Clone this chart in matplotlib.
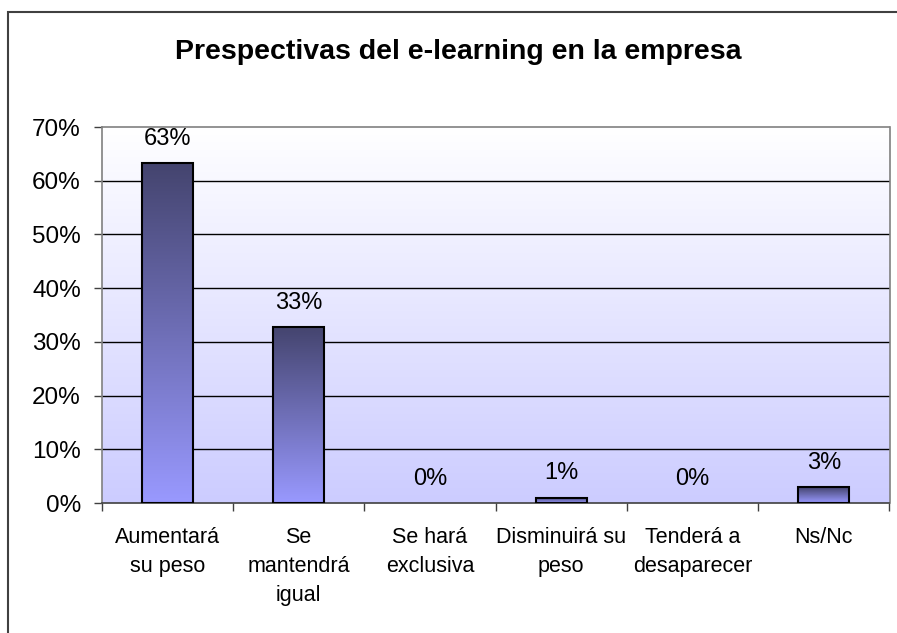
import numpy as np
import matplotlib
matplotlib.use("Agg")
import matplotlib.pyplot as plt
from matplotlib.patches import Rectangle
from matplotlib.colors import LinearSegmentedColormap

categories = ["Aumentará\nsu peso", "Se\nmantendrá\nigual", "Se hará\nexclusiva",
              "Disminuirá su\npeso", "Tenderá a\ndesaparecer", "Ns/Nc"]
values = [63.3, 32.8, 0.0, 1.0, 0.0, 2.9]
yticks = [0, 10, 20, 30, 40, 50, 60, 70]
title = "Prespectivas del e-learning en la empresa"

plt.rcParams['font.family'] = ['Liberation Sans', 'DejaVu Sans']

W, H = 897, 633
fig = plt.figure(figsize=(W / 100, H / 100), dpi=100)
fig.patch.set_facecolor("white")

# outer chart frame (right/bottom edges run off the image)
fig.patches.append(Rectangle((8 / W, -0.05), 1.2, 1 - 12 / H + 0.05, transform=fig.transFigure,
                             fill=False, edgecolor="#404040", linewidth=1.5, zorder=0))

ax = fig.add_axes([101.7 / W, 1 - 503 / H, (889.5 - 101.7) / W, (503 - 127) / H])
n = len(categories)

# background gradient
bg = LinearSegmentedColormap.from_list("bg", ["#ccccff", "#ffffff"])
grad = np.linspace(0, 1, 256).reshape(-1, 1)
ax.imshow(grad, aspect="auto", cmap=bg, origin="lower",
          extent=[-0.5, n - 0.5, 0, 70], zorder=0)

# gridlines
for t in yticks[1:-1]:
    ax.axhline(t, color="black", linewidth=1.0, zorder=1)

barcm = LinearSegmentedColormap.from_list("bar", ["#9999ff", "#44446e"])
bw = 0.39
bars = ax.bar(range(n), values, width=bw, color="none",
              edgecolor="black", linewidth=1.5, zorder=3)
for b, v in zip(bars, values):
    if v <= 0:
        b.set_visible(False)
        continue
    x0 = b.get_x()
    im = ax.imshow(grad, aspect="auto", cmap=barcm, origin="lower",
                   extent=[x0, x0 + bw, 0, v], zorder=2)
    im.set_clip_path(b)

for i, v in enumerate(values):
    ax.annotate(f"{v:.0f}%", (i, v), xytext=(0, 17.5), textcoords="offset points",
                ha="center", va="center", fontsize=17, color="black", zorder=5)

ax.set_xlim(-0.5, n - 0.5)
ax.set_ylim(0, 70)

for s in ["top", "right", "left"]:
    ax.spines[s].set_color("#808080")
    ax.spines[s].set_linewidth(1.2)
ax.spines["bottom"].set_color("#404040")
ax.spines["bottom"].set_linewidth(1.2)

ax.set_yticks(yticks)
ax.set_yticklabels([f"{t}%" for t in yticks], fontsize=17.5)
ax.tick_params(axis="y", length=6, width=1, color="#404040", pad=9)

ax.set_xticks(np.arange(-0.5, n, 1.0))
ax.set_xticklabels([])
ax.tick_params(axis="x", length=6, width=1, color="#404040")
for i, c in enumerate(categories):
    ax.text(i, -4.4, c, ha="center", va="top", fontsize=15.5,
            linespacing=1.5, transform=ax.transData, clip_on=False)

fig.text(458 / W, 1 - 52 / H, title, ha="center", va="center", fontsize=20.5,
         fontweight="bold")

fig.savefig("out.png", dpi=100)
